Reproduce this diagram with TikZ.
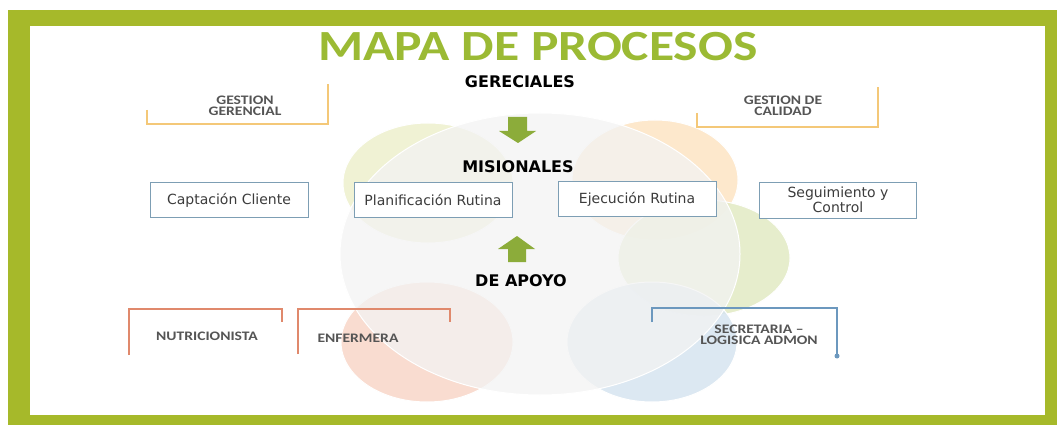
\documentclass[tikz,border=0pt]{standalone}
\usepackage{fontspec}
\setmainfont{DejaVu Sans}
\newfontfamily\titlefont[FakeStretch=1.2]{Carlito}
\newfontfamily\tagfont[FakeStretch=1.2]{Carlito}

\definecolor{marco}{RGB}{166,185,42}
\definecolor{verdetitulo}{RGB}{155,186,52}
\definecolor{flecha}{RGB}{140,172,58}
\definecolor{bordecaja}{RGB}{125,158,180}
\definecolor{textocaja}{RGB}{60,60,60}
\definecolor{gris}{RGB}{85,85,85}
\definecolor{dorado}{RGB}{244,200,120}
\definecolor{salmon}{RGB}{224,137,108}
\definecolor{acero}{RGB}{108,152,190}
\definecolor{bamarillo}{RGB}{238,240,205}
\definecolor{bnaranja}{RGB}{253,228,196}
\definecolor{bverde}{RGB}{226,234,196}
\definecolor{bazul}{RGB}{214,228,240}
\definecolor{brosa}{RGB}{249,214,200}
\definecolor{bgris}{RGB}{243,243,243}

\usetikzlibrary{positioning}

\tikzset{
  caja/.style={draw=bordecaja,line width=1pt,fill=white,minimum width=158pt,
    minimum height=35pt,inner sep=2pt,text=textocaja,align=center,
    font=\fontsize{14}{15}\selectfont},
  nivel/.style={anchor=base,font=\bfseries\fontsize{16}{18}\selectfont},
  etiqueta/.style={align=center,text=gris,inner sep=0pt,
    font=\tagfont\bfseries\fontsize{13}{11.5}\selectfont},
  burbuja/.style={draw=white,line width=1pt,fill opacity=.85},
}

\begin{document}
\begin{tikzpicture}[x=1pt,y=-1pt]
  \useasboundingbox (0,0) rectangle (1057,425);
  % marco
  \fill[white] (0,0) rectangle (1057,425);
  \fill[marco] (8,10) rectangle (1057,425);
  \fill[white] (30,26) rectangle (1045,415);

  % burbujas
  \fill[burbuja,fill=bamarillo] (428,183) ellipse [x radius=85,y radius=60];
  \fill[burbuja,fill=bnaranja] (655,180) ellipse [x radius=83,y radius=60];
  \fill[burbuja,fill=bverde] (704,258) ellipse [x radius=86,y radius=58];
  \fill[burbuja,fill=bazul] (652,342) ellipse [x radius=85,y radius=60];
  \fill[burbuja,fill=brosa] (427,342) ellipse [x radius=86,y radius=60];
  \filldraw[draw=white,line width=1pt,fill=bgris,fill opacity=.75] (540,254) ellipse [x radius=200,y radius=141];

  % titulos
  \node[anchor=base,text=verdetitulo,font=\titlefont\bfseries\fontsize{43}{46}\selectfont] (titulo) at (538,61) {MAPA DE PROCESOS};
  \node[nivel] (gerenciales) at (520,88) {GERECIALES};
  \node[nivel] (misionales) at (518,172) {MISIONALES};
  \node[nivel] (apoyo) at (521,286) {DE APOYO};

  % flechas
  \fill[flecha] (508,117) -- (527,117) -- (527,131) -- (536,131) -- (518,143) -- (499,131) -- (508,131) -- cycle;
  \fill[flecha] (508,262) -- (526,262) -- (526,249) -- (535,249) -- (517,236) -- (498,249) -- (508,249) -- cycle;

  % procesos misionales
  \node[caja] (captacion) at (229,200) {Captación Cliente};
  \node[caja] (planificacion) at (433,200) {Planificación Rutina};
  \node[caja] (ejecucion) at (637,199) {Ejecución Rutina};
  \node[caja,minimum width=157pt,minimum height=36pt] (seguimiento) at (838,200) {Seguimiento y\\Control};

  % gerenciales
  \draw[dorado,line width=1.2pt] (147,110) -- (147,124) -- (328,124) -- (328,84);
  \draw[dorado,line width=1.2pt] (697,113) -- (697,127) -- (878,127) -- (878,87);
  \node[etiqueta] (gestger) at (245,106) {GESTION\\GERENCIAL};
  \node[etiqueta] (gestcal) at (783,106) {GESTION DE\\CALIDAD};

  % apoyo
  \draw[salmon,line width=1.2pt] (129,355) -- (129,309) -- (282,309) -- (282,322);
  \draw[salmon,line width=1.2pt] (298,354) -- (298,309) -- (450,309) -- (450,322);
  \draw[acero,line width=1.2pt] (652,322) -- (652,308) -- (837,308) -- (837,356);
  \fill[acero] (837,356) circle (2.5);
  \node[etiqueta] (nutri) at (207,336) {NUTRICIONISTA};
  \node[etiqueta] (enfer) at (358,338) {ENFERMERA};
  \node[etiqueta] (secre) at (759,335) {SECRETARIA –\\LOGISICA ADMON};
\end{tikzpicture}
\end{document}
